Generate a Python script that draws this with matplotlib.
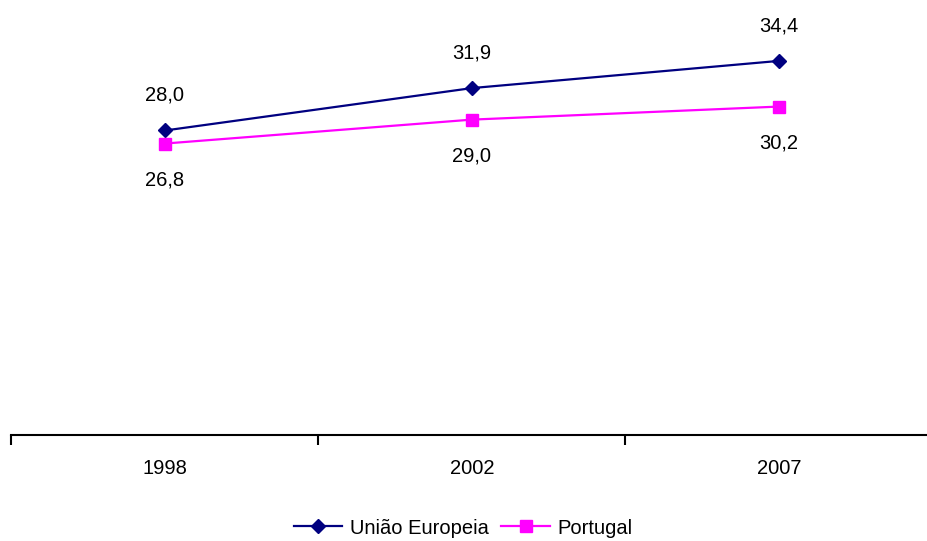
import numpy as np
import matplotlib
matplotlib.use("Agg")
from matplotlib import pyplot as plt

years = ["1998", "2002", "2007"]
eu_values = [28.0, 31.9, 34.4]
pt_values = [26.8, 29.0, 30.2]
eu_name = "União Europeia"
pt_name = "Portugal"

plt.rcParams['font.family'] = ['Liberation Sans', 'DejaVu Sans']
fs = 14.5

fig = plt.figure(figsize=(9.27, 5.41), dpi=100)
ax = fig.add_axes([0.0124, 0.196, 0.9935, 0.804])

x = np.arange(len(years))
ax.plot(x, eu_values, color="#000080", lw=1.6, marker="D", ms=7, label=eu_name)
ax.plot(x, pt_values, color="#FF00FF", lw=1.6, marker="s", ms=8, label=pt_name)

def fmt(v):
    return ("%.1f" % v).replace(".", ",")

for xi, v in zip(x, eu_values):
    ax.annotate(fmt(v), (xi, v), xytext=(0, 35), textcoords="offset pixels",
                ha="center", va="center", fontsize=fs)
for xi, v in zip(x, pt_values):
    ax.annotate(fmt(v), (xi, v), xytext=(0, -36), textcoords="offset pixels",
                ha="center", va="center", fontsize=fs)

ax.set_xlim(-0.5, 2.5)
ax.set_ylim(0, 40)
for s in ["left", "right", "top"]:
    ax.spines[s].set_visible(False)
ax.spines["bottom"].set_linewidth(1.5)
ax.set_yticks([])
ax.set_xticks(x)
ax.set_xticklabels(years, fontsize=fs)
ax.tick_params(axis="x", which="major", length=0, pad=17)
ax.set_xticks(np.arange(-0.5, 2.6, 1.0), minor=True)
ax.tick_params(axis="x", which="minor", length=7, width=1.5, direction="out")

fig.legend(loc="center", bbox_to_anchor=(0.5, 0.024), ncol=2, frameon=False,
           fontsize=fs, handlelength=2.4, handletextpad=0.4, columnspacing=0.6,
           borderpad=0.1)

fig.savefig("out.png", dpi=100)
